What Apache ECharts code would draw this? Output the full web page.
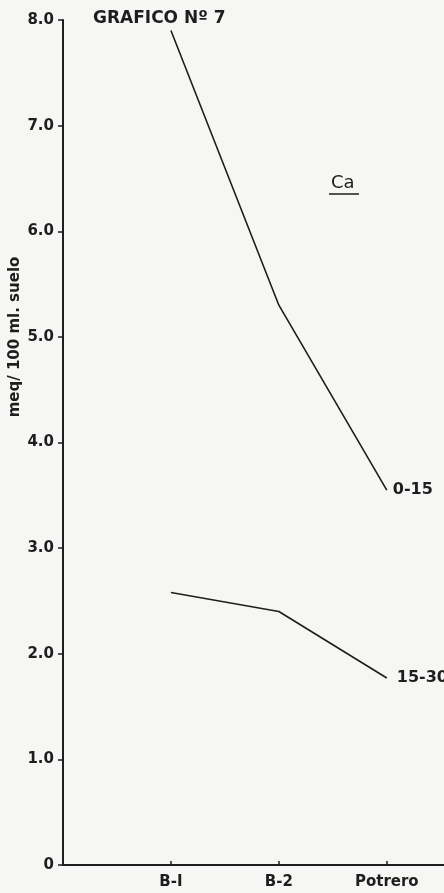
<!DOCTYPE html>
<html>
<head>
<meta charset="utf-8">
<script src="https://cdn.jsdelivr.net/npm/echarts@6/dist/echarts.min.js"></script>
<style>
  html, body { margin: 0; padding: 0; background: #f6f6f4; }
  #chart { width: 444px; height: 893px; }
</style>
</head>
<body>
<div id="chart"></div>
<script>
// Data
const categories = ['B-I', 'B-2', 'Potrero'];
const categoryPos = [1, 2, 3];
const ca0_15 = [7.9, 5.3, 3.55];
const ca15_30 = [2.58, 2.4, 1.77];
const seriesNames = ['0-15', '15-30'];
const yTickValues = [0, 1, 2, 3, 4, 5, 6, 7, 8];
const yTickLabels = ['0', '1.0', '2.0', '3.0', '4.0', '5.0', '6.0', '7.0', '8.0'];
const titleText = 'GRAFICO Nº 7';
const yAxisTitle = 'meq/ 100 ml. suelo';
const elementLabel = 'Ca';

const ink = '#1e1e1e';
const font = 'DejaVu Sans';

const chart = echarts.init(document.getElementById('chart'), null, { renderer: 'canvas' });

function pts(vals) { return categoryPos.map((p, i) => [p, vals[i]]); }

const option = {
  backgroundColor: '#f6f6f4',
  animation: false,
  grid: { left: 63, right: 0, top: 20, bottom: 28, containLabel: false },
  xAxis: {
    type: 'value', min: 0, max: 3.53,
    axisLine: { show: true, lineStyle: { color: ink, width: 2 } },
    axisTick: { show: true, inside: true, length: 4, customValues: categoryPos, lineStyle: { color: ink, width: 1.5 } },
    axisLabel: {
      customValues: categoryPos, margin: 10,
      formatter: v => categories[Math.round(v) - 1] || '',
      color: ink, fontFamily: font, fontWeight: 'bold', fontSize: 15
    },
    splitLine: { show: false }
  },
  yAxis: {
    type: 'value', min: 0, max: 8,
    axisLine: { show: true, onZero: false, lineStyle: { color: ink, width: 2 } },
    axisTick: { show: true, length: 5, customValues: yTickValues, lineStyle: { color: ink, width: 1.5 } },
    axisLabel: {
      customValues: yTickValues, margin: 9,
      formatter: v => yTickLabels[yTickValues.indexOf(Math.round(v))] ?? '',
      color: ink, fontFamily: font, fontWeight: 'bold', fontSize: 15
    },
    splitLine: { show: false }
  },
  series: [
    {
      name: seriesNames[0], type: 'line', data: pts(ca0_15), symbol: 'none',
      lineStyle: { color: ink, width: 1.6 },
      endLabel: { show: true, formatter: '{a}', distance: 6, color: ink, fontFamily: font, fontWeight: 'bold', fontSize: 16 }
    },
    {
      name: seriesNames[1], type: 'line', data: pts(ca15_30), symbol: 'none',
      lineStyle: { color: ink, width: 1.6 },
      endLabel: { show: true, formatter: '{a}', distance: 10, color: ink, fontFamily: font, fontWeight: 'bold', fontSize: 16 }
    }
  ],
  graphic: [
    {
      type: 'text', left: 93, top: 10,
      style: { text: titleText, fill: ink, font: 'bold 17px "DejaVu Sans"' }
    },
    {
      type: 'text', left: 331, top: 174,
      style: { text: elementLabel, fill: ink, font: '18px "DejaVu Sans"' }
    },
    {
      type: 'line', shape: { x1: 329, y1: 194, x2: 359, y2: 194 },
      style: { stroke: ink, lineWidth: 1.5 }
    },
    {
      type: 'text', x: 15, y: 337, rotation: Math.PI / 2,
      style: { text: yAxisTitle, fill: ink, font: 'bold 15px "DejaVu Sans"', align: 'center', verticalAlign: 'middle' }
    }
  ]
};
chart.setOption(option);
</script>
</body>
</html>
